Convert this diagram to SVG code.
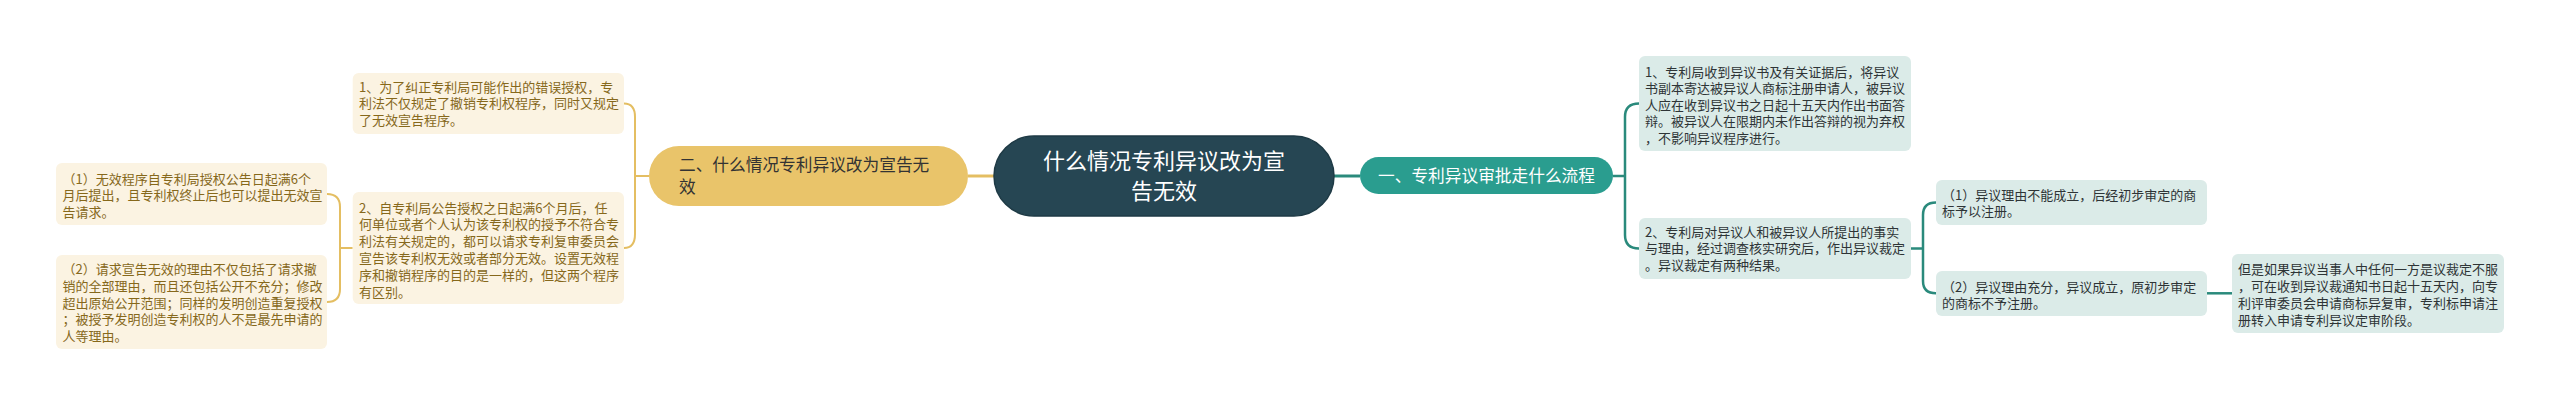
<svg xmlns="http://www.w3.org/2000/svg" width="2560" height="406" viewBox="0 0 2560 406">
<defs>
<style>
text{font-family:"Noto Sans CJK SC","Noto Sans",sans-serif;}
.leafY{fill:#fbf3e2;}
.leafT{fill:#dbebe8;}
.ty{font-size:13px;fill:#86681b;}
.tt{font-size:13px;fill:#2e3436;}
.cy{fill:none;stroke:#e4be62;stroke-width:2;}
.ct{fill:none;stroke:#2a8a7c;stroke-width:2.5;}
</style>
</defs>
<rect width="2560" height="406" fill="#ffffff"/>
<g id="connectors">
<path class="cy" d="M968 176 H994" style="stroke-width:3"/>
<path class="ct" d="M1334 176 H1360" style="stroke-width:3"/>
<path class="cy" d="M649 176 H635 M624 103.5 Q635 103.5 635 117 V234 Q635 248 624 248"/>
<path class="cy" d="M352.7 248 H340 M327 194 Q340 194 340 207 V289 Q340 302 327 302"/>
<path class="ct" d="M1613 176 H1625 M1639 103.5 Q1625 103.5 1625 117 V235 Q1625 248.5 1639 248.5"/>
<path class="ct" d="M1911 248.5 H1923 M1936 202.5 Q1923 202.5 1923 215 V281 Q1923 293.3 1936 293.3"/>
<path class="ct" d="M2207 293.3 H2232"/>
</g>
<g id="root">
<rect x="994" y="136" width="340" height="80" rx="40" fill="#264653" stroke="#1e3a45" stroke-width="1.5"/>
<text x="1164" y="169" text-anchor="middle" font-size="22" fill="#ffffff">什么情况专利异议改为宣</text>
<text x="1164" y="199" text-anchor="middle" font-size="22" fill="#ffffff">告无效</text>
</g>
<g id="n-yellow">
<rect x="649" y="146" width="319" height="60" rx="30" fill="#e9c46a"/>
<text x="679" y="171" font-size="16.7" fill="#333333">二、什么情况专利异议改为宣告无</text>
<text x="679" y="192.7" font-size="16.7" fill="#333333">效</text>
</g>
<g id="n-teal">
<rect x="1360" y="157" width="253" height="37" rx="18.5" fill="#2a9d8f"/>
<text x="1486.5" y="182" text-anchor="middle" font-size="16.7" fill="#ffffff">一、专利异议审批走什么流程</text>
</g>
<g id="l1">
<rect class="leafY" x="352.7" y="73" width="271.3" height="61" rx="6"/>
<text class="ty" x="359" y="91.5">1、为了纠正专利局可能作出的错误授权，专</text>
<text class="ty" x="359" y="108.2">利法不仅规定了撤销专利权程序，同时又规定</text>
<text class="ty" x="359" y="124.9">了无效宣告程序。</text>
</g>
<g id="l2">
<rect class="leafY" x="352.7" y="192" width="271.3" height="112" rx="6"/>
<text class="ty" x="359" y="212.5">2、自专利局公告授权之日起满6个月后，任</text>
<text class="ty" x="359" y="229.3">何单位或者个人认为该专利权的授予不符合专</text>
<text class="ty" x="359" y="246.1">利法有关规定的，都可以请求专利复审委员会</text>
<text class="ty" x="359" y="262.9">宣告该专利权无效或者部分无效。设置无效程</text>
<text class="ty" x="359" y="279.7">序和撤销程序的目的是一样的，但这两个程序</text>
<text class="ty" x="359" y="296.5">有区别。</text>
</g>
<g id="l2a">
<rect class="leafY" x="56" y="163" width="271" height="62" rx="6"/>
<text class="ty" x="62.5" y="183.5">（1）无效程序自专利局授权公告日起满6个</text>
<text class="ty" x="62.5" y="200.2">月后提出，且专利权终止后也可以提出无效宣</text>
<text class="ty" x="62.5" y="216.9">告请求。</text>
</g>
<g id="l2b">
<rect class="leafY" x="56" y="255" width="271" height="94" rx="6"/>
<text class="ty" x="62.5" y="274.3">（2）请求宣告无效的理由不仅包括了请求撤</text>
<text class="ty" x="62.5" y="291">销的全部理由，而且还包括公开不充分；修改</text>
<text class="ty" x="62.5" y="307.7">超出原始公开范围；同样的发明创造重复授权</text>
<text class="ty" x="62.5" y="324.4">；被授予发明创造专利权的人不是最先申请的</text>
<text class="ty" x="62.5" y="341.1">人等理由。</text>
</g>
<g id="r1">
<rect class="leafT" x="1639" y="56" width="272" height="95" rx="6"/>
<text class="tt" x="1645" y="76.5">1、专利局收到异议书及有关证据后，将异议</text>
<text class="tt" x="1645" y="93">书副本寄达被异议人商标注册申请人，被异议</text>
<text class="tt" x="1645" y="109.5">人应在收到异议书之日起十五天内作出书面答</text>
<text class="tt" x="1645" y="126">辩。被异议人在限期内未作出答辩的视为弃权</text>
<text class="tt" x="1645" y="142.5">，不影响异议程序进行。</text>
</g>
<g id="r2">
<rect class="leafT" x="1639" y="218" width="272" height="61" rx="6"/>
<text class="tt" x="1645" y="236.7">2、专利局对异议人和被异议人所提出的事实</text>
<text class="tt" x="1645" y="253.4">与理由，经过调查核实研究后，作出异议裁定</text>
<text class="tt" x="1645" y="270.1">。异议裁定有两种结果。</text>
</g>
<g id="r2a">
<rect class="leafT" x="1936" y="180" width="271" height="45" rx="6"/>
<text class="tt" x="1942" y="199.5">（1）异议理由不能成立，后经初步审定的商</text>
<text class="tt" x="1942" y="216.2">标予以注册。</text>
</g>
<g id="r2b">
<rect class="leafT" x="1936" y="271" width="271" height="45" rx="6"/>
<text class="tt" x="1942" y="291.5">（2）异议理由充分，异议成立，原初步审定</text>
<text class="tt" x="1942" y="308.2">的商标不予注册。</text>
</g>
<g id="r2b1">
<rect class="leafT" x="2232" y="254" width="272" height="79" rx="6"/>
<text class="tt" x="2238" y="274.3">但是如果异议当事人中任何一方是议裁定不服</text>
<text class="tt" x="2238" y="291.2">，可在收到异议裁通知书日起十五天内，向专</text>
<text class="tt" x="2238" y="308.1">利评审委员会申请商标异复审，专利标申请注</text>
<text class="tt" x="2238" y="325">册转入申请专利异议定审阶段。</text>
</g>
</svg>
